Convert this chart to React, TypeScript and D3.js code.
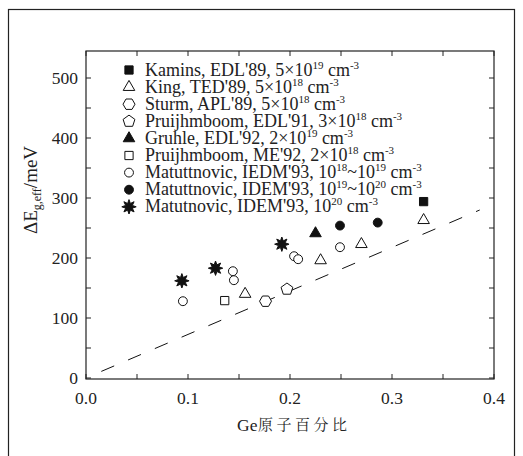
import React from 'react'
import * as d3 from 'd3'

// data: Ge fraction vs bandgap narrowing (meV)
const kaminsX = [0.331]
const kaminsY = [294]
const kingX = [0.156, 0.230, 0.270, 0.331]
const kingY = [140, 196, 223, 263]
const sturmX = [0.176]
const sturmY = [128]
const pruij91X = [0.197]
const pruij91Y = [148]
const gruhleX = [0.225]
const gruhleY = [241]
const pruij92X = [0.136]
const pruij92Y = [129]
const matIedmX = [0.095, 0.144, 0.145, 0.204, 0.208, 0.249]
const matIedmY = [128, 178, 163, 203, 198, 218]
const matIdemX = [0.249, 0.286]
const matIdemY = [254, 259]
const matStarX = [0.094, 0.127, 0.192]
const matStarY = [162, 183, 223]
const dashX = [0.015, 0.386]
const dashY = [11, 280]

const xTickVals = [0, 0.1, 0.2, 0.3, 0.4]
const yTickVals = [0, 100, 200, 300, 400, 500]

// legend label pieces: [text, superscript, ...]
const legendLabels = [
  ['Kamins, EDL\'89, 5×10', '19', ' cm', '-3'],
  ['King, TED\'89, 5×10', '18', ' cm', '-3'],
  ['Sturm, APL\'89, 5×10', '18', ' cm', '-3'],
  ['Pruijhmboom, EDL\'91, 3×10', '18', ' cm', '-3'],
  ['Gruhle, EDL\'92, 2×10', '19', ' cm', '-3'],
  ['Pruijhmboom, ME\'92, 2×10', '18', ' cm', '-3'],
  ['Matuttnovic, IEDM\'93, 10', '18', '~10', '19', ' cm', '-3'],
  ['Matuttnovic, IDEM\'93, 10', '19', '~10', '20', ' cm', '-3'],
  ['Matutnovic, IDEM\'93, 10', '20', ' cm', '-3'],
]

const W = 523, H = 456
const m = { left: 86, top: 51, right: 494, bottom: 379 }
const serif = '"Liberation Serif", "Times New Roman", serif'

const polygon = (n: number, r: number, rot: number) => {
  const pts = d3.range(n).map(i => {
    const a = rot + (i * 2 * Math.PI) / n
    return [r * Math.cos(a), r * Math.sin(a)]
  })
  return 'M' + pts.map(p => p.join(',')).join('L') + 'Z'
}
const star = (n: number, ro: number, ri: number) => {
  const pts = d3.range(n * 2).map(i => {
    const r = i % 2 ? ri : ro
    const a = -Math.PI / 2 + (i * Math.PI) / n
    return [r * Math.cos(a), r * Math.sin(a)]
  })
  return 'M' + pts.map(p => p.join(',')).join('L') + 'Z'
}

const shapes: Record<string, { d: string; fill: string }> = {
  sqFill: { d: d3.symbol(d3.symbolSquare, 68)()!, fill: '#111' },
  tri: { d: d3.symbol(d3.symbolTriangle, 58)()!, fill: 'white' },
  hex: { d: polygon(6, 6, 0), fill: 'white' },
  pent: { d: polygon(5, 6.2, -Math.PI / 2), fill: 'white' },
  triFill: { d: d3.symbol(d3.symbolTriangle, 58)()!, fill: '#111' },
  sq: { d: d3.symbol(d3.symbolSquare, 68)()!, fill: 'white' },
  circ: { d: d3.symbol(d3.symbolCircle, 62)()!, fill: 'white' },
  circFill: { d: d3.symbol(d3.symbolCircle, 62)()!, fill: '#111' },
  star: { d: star(8, 7.2, 3.6), fill: '#111' },
}

const series = [
  { shape: 'sqFill', xs: kaminsX, ys: kaminsY },
  { shape: 'tri', xs: kingX, ys: kingY },
  { shape: 'hex', xs: sturmX, ys: sturmY },
  { shape: 'pent', xs: pruij91X, ys: pruij91Y },
  { shape: 'triFill', xs: gruhleX, ys: gruhleY },
  { shape: 'sq', xs: pruij92X, ys: pruij92Y },
  { shape: 'circ', xs: matIedmX, ys: matIedmY },
  { shape: 'circFill', xs: matIdemX, ys: matIdemY },
  { shape: 'star', xs: matStarX, ys: matStarY },
]

const Marker = ({ shape, x, y }: { shape: string; x: number; y: number }) => {
  const s = shapes[shape]
  return <path d={s.d} transform={`translate(${x},${y})`} fill={s.fill} stroke="#111" strokeWidth={1} />
}

export default function App() {
  const x = d3.scaleLinear().domain([0, 0.4]).range([m.left, m.right])
  const y = d3.scaleLinear().domain([0, 500]).range([378, 78])
  const xMinor = d3.range(0, 0.4001, 0.05)
  const yMinor = d3.range(0, 546, 50)
  const line = d3.line<number>().x((d, i) => x(dashX[i])).y(d => y(d))
  const txt = { fontFamily: serif, fill: '#222' }

  return (
    <svg width={W} height={H} style={{ position: 'absolute', left: 0, top: 0, fontFamily: serif }}>
      <rect x={0} y={0} width={W} height={H} fill="white" />
      <rect x={8.5} y={9.5} width={506} height={470} fill="none" stroke="#222" strokeWidth={1.2} />

      {/* dashed reference line */}
      <path d={line(dashY)!} fill="none" stroke="#111" strokeWidth={1} strokeDasharray="14,15.1" />

      {/* ticks on all four sides */}
      {xMinor.map((v, i) => (
        <g key={'xt' + i}>
          <line x1={x(v)} x2={x(v)} y1={m.bottom} y2={m.bottom - 5} stroke="#222" />
          <line x1={x(v)} x2={x(v)} y1={m.top} y2={m.top + 5} stroke="#222" />
        </g>
      ))}
      {yMinor.map((v, i) => (
        <g key={'yt' + i}>
          <line x1={m.left} x2={m.left + 5} y1={y(v)} y2={y(v)} stroke="#222" />
          <line x1={m.right} x2={m.right - 5} y1={y(v)} y2={y(v)} stroke="#222" />
        </g>
      ))}
      <rect x={m.left} y={m.top} width={m.right - m.left} height={m.bottom - m.top} fill="none" stroke="#222" strokeWidth={1.2} />

      {xTickVals.map(v => (
        <text key={'xl' + v} x={x(v)} y={404} textAnchor="middle" fontSize={17.5} style={txt}>{v.toFixed(1)}</text>
      ))}
      {yTickVals.map(v => (
        <text key={'yl' + v} x={78} y={y(v) + 6} textAnchor="end" fontSize={17.5} style={txt}>{v}</text>
      ))}

      {/* axis titles */}
      <text x={237} y={431} fontSize={17.5} style={txt}>Ge</text>
      <text x={258} y={430} fontSize={15} letterSpacing={3.5} style={{ fontFamily: '"Noto Serif CJK SC", "Noto Sans CJK SC"', fill: '#222' }}>原子百分比</text>
      <text transform="translate(37,190) rotate(-90)" textAnchor="middle" fontSize={19} style={txt}>
        ΔE<tspan fontSize={12} dy={4}>g,eff</tspan><tspan dy={-4}>/meV</tspan>
      </text>

      {/* data */}
      {series.map((s, si) => s.xs.map((v, i) => (
        <Marker key={si + '-' + i} shape={s.shape} x={x(v)} y={y(s.ys[i])} />
      )))}

      {/* legend */}
      {legendLabels.map((parts, i) => {
        const cy = 70 + i * 17.1
        return (
          <g key={'lg' + i}>
            <Marker shape={series[i].shape} x={129} y={cy} />
            <text x={145} y={cy + 5.5} fontSize={18} style={txt}>
              {parts.map((p, j) => j % 2 === 1
                ? <tspan key={j} fontSize={11} dy={-7}>{p}</tspan>
                : <tspan key={j} dy={j === 0 ? 0 : 7}>{p}</tspan>)}
            </text>
          </g>
        )
      })}
    </svg>
  )
}
